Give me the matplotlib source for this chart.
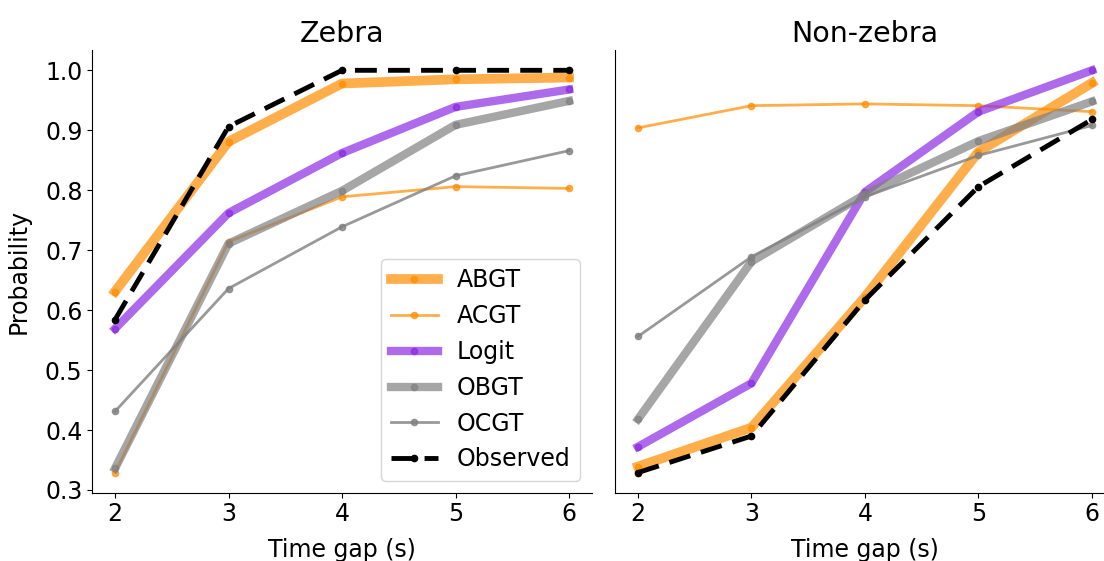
import numpy as np
import matplotlib
matplotlib.use('Agg')
import matplotlib.pyplot as plt

gaps = [2, 3, 4, 5, 6]

# zebra crossings
zebra = {
    'ABGT': [0.631, 0.881, 0.978, 0.985, 0.988],
    'ACGT': [0.329, 0.714, 0.789, 0.806, 0.803],
    'Logit': [0.569, 0.762, 0.862, 0.939, 0.968],
    'OBGT': [0.336, 0.711, 0.799, 0.909, 0.949],
    'OCGT': [0.431, 0.636, 0.739, 0.824, 0.866],
    'Observed': [0.584, 0.906, 1.0, 1.0, 1.0],
}

# non-zebra crossings
nonzebra = {
    'ABGT': [0.339, 0.404, 0.622, 0.864, 0.979],
    'ACGT': [0.904, 0.941, 0.944, 0.941, 0.931],
    'Logit': [0.372, 0.478, 0.797, 0.931, 1.0],
    'OBGT': [0.418, 0.681, 0.793, 0.882, 0.948],
    'OCGT': [0.556, 0.689, 0.789, 0.858, 0.908],
    'Observed': [0.329, 0.390, 0.617, 0.806, 0.918],
}

styles = {
    'ABGT': dict(color='darkorange', lw=7, alpha=0.7),
    'ACGT': dict(color='darkorange', lw=2, alpha=0.7),
    'Logit': dict(color='blueviolet', lw=6, alpha=0.7),
    'OBGT': dict(color='gray', lw=6, alpha=0.7),
    'OCGT': dict(color='gray', lw=2, alpha=0.8),
    'Observed': dict(color='black', lw=3.5, ls='--', dashes=(4.5, 2.3)),
}

fig = plt.figure(figsize=(11.04, 5.61), dpi=100)
ax1 = fig.add_axes([0.0836, 0.1218, 0.4524, 0.7892])
ax2 = fig.add_axes([0.5573, 0.1218, 0.4524, 0.7892])

for ax, data, title in [(ax1, zebra, 'Zebra'), (ax2, nonzebra, 'Non-zebra')]:
    for name, vals in data.items():
        ax.plot(gaps, vals, marker='o', ms=4.5, label=name, **styles[name])
    ax.set_title(title, fontsize=20.5)
    ax.set_xlabel('Time gap (s)', fontsize=17, labelpad=8)
    ax.set_xticks(gaps)
    ax.set_xlim(1.8, 6.2)
    ax.set_ylim(0.2955, 1.034)
    ax.spines['top'].set_visible(False)
    ax.spines['right'].set_visible(False)
    ax.tick_params(labelsize=17)

ax1.set_yticks(np.arange(0.3, 1.01, 0.1))
ax1.set_ylabel('Probability', fontsize=17, labelpad=10)
ax2.set_yticks([])
ax1.legend(loc='lower right', fontsize=17)

plt.savefig('out.png', dpi=100)
